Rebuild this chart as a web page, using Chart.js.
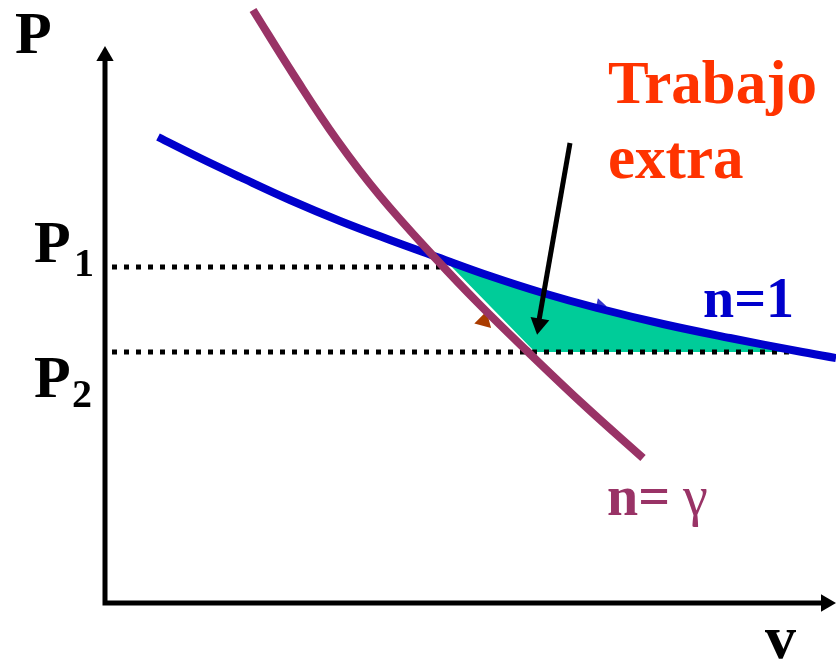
<!DOCTYPE html>
<html>
<head>
<meta charset="utf-8">
<title>Trabajo extra</title>
<script src="https://cdn.jsdelivr.net/npm/chart.js@4.4.1/dist/chart.umd.min.js"></script>
<style>
  html, body { margin: 0; padding: 0; background: #fff; }
  #wrap { width: 836px; height: 660px; }
</style>
</head>
<body>
<div id="wrap"><canvas id="pv"></canvas></div>
<script>
// units: v and P measured from the axis origin, 1 unit ~ 100px
const isoV = [0.53, 0.95, 1.35, 1.85, 2.35, 2.85, 3.32, 3.85, 4.38, 4.92, 5.58, 6.25, 6.92, 7.31];
const isoP = [4.66, 4.45, 4.26, 4.03, 3.82, 3.63, 3.46, 3.27, 3.10, 2.95, 2.79, 2.65, 2.52, 2.45];

const adiaV = [1.48, 1.90, 2.32, 2.75, 3.32, 3.75, 4.22, 4.80, 5.38];
const adiaP = [5.93, 5.26, 4.63, 4.07, 3.43, 2.98, 2.52, 1.97, 1.45];

const P1 = 3.36;
const P2 = 2.51;
const p1V = [0.07, 3.35];
const p2V = [0.07, 6.95];

// shaded "trabajo extra" region
const extraV = [3.40, 3.85, 4.38, 4.92, 5.58, 6.25, 6.95, 4.30];
const extraP = [3.43, 3.27, 3.10, 2.95, 2.79, 2.65, 2.51, 2.51];

// axes
const axisV = [0, 0, 7.21];
const axisP = [5.50, 0, 0];
const axisHeadV = [0, 7.21];
const axisHeadP = [5.47, 0];
const axisHeadRot = [0, 90];

// pointer arrow
const arrowV = [4.65, 4.33];
const arrowP = [4.60, 2.77];
const arrowHeadV = [4.34];
const arrowHeadP = [2.79];
const arrowHeadRot = [190];

// direction marks on the curves
const isoMarkV = [4.95];
const isoMarkP = [2.98];
const adiaMarkV = [3.79];
const adiaMarkP = [2.82];

const pts = (xs, ys) => xs.map((v, i) => ({x: v, y: ys[i]}));

const serif = '"Liberation Serif", "Times New Roman", serif';
const notes = [
  {text: 'P', v: -0.90, p: 5.50, font: 'bold 60px ' + serif, color: '#000'},
  {text: 'P', v: -0.71, p: 3.41, font: 'bold 60px ' + serif, color: '#000'},
  {text: '1', v: -0.31, p: 3.27, font: 'bold 40px ' + serif, color: '#000'},
  {text: 'P', v: -0.71, p: 2.06, font: 'bold 60px ' + serif, color: '#000'},
  {text: '2', v: -0.33, p: 1.96, font: 'bold 40px ' + serif, color: '#000'},
  {text: 'Trabajo', v: 5.03, p: 5.00, font: 'bold 61px ' + serif, color: '#FF3300'},
  {text: 'extra', v: 5.03, p: 4.25, font: 'bold 61px ' + serif, color: '#FF3300'},
  {text: 'n=1', v: 5.98, p: 2.86, font: 'bold 56px ' + serif, color: '#0000CC'},
  {text: 'n=', v: 5.02, p: 0.88, font: 'bold 56px ' + serif, color: '#993366'},
  {text: 'γ', v: 5.78, p: 0.88, font: '56px ' + serif, color: '#993366'},
  {text: 'v', v: 6.60, p: -0.55, font: 'bold 62px ' + serif, color: '#000'}
];

const textPlugin = {
  id: 'pvText',
  afterDatasetsDraw(chart) {
    const {ctx, scales: {x, y}} = chart;
    ctx.save();
    ctx.textAlign = 'left';
    ctx.textBaseline = 'alphabetic';
    notes.forEach(n => {
      ctx.font = n.font;
      ctx.fillStyle = n.color;
      ctx.fillText(n.text, x.getPixelForValue(n.v), y.getPixelForValue(n.p));
    });
    ctx.restore();
  }
};

const lineSet = (data, color, width, order, extra) => Object.assign({
  data: data,
  showLine: true,
  borderColor: color,
  borderWidth: width,
  pointRadius: 0,
  fill: false,
  clip: false,
  order: order
}, extra || {});

const headSet = (data, color, r, rot, order) => ({
  data: data,
  showLine: false,
  pointStyle: 'triangle',
  pointRadius: r,
  rotation: rot,
  backgroundColor: color,
  borderWidth: 0,
  clip: false,
  order: order
});

new Chart(document.getElementById('pv'), {
  type: 'scatter',
  data: {
    datasets: [
      lineSet(pts(arrowV, arrowP), '#000', 5, 1),
      headSet(pts(arrowHeadV, arrowHeadP), '#000', 11, arrowHeadRot, 1),
      lineSet(pts(adiaV, adiaP), '#993366', 8, 2, {tension: 0.4}),
      headSet(pts(adiaMarkV, adiaMarkP), '#AA3C00', 10, 135, 3),
      lineSet(pts(isoV, isoP), '#0000CC', 8, 4, {tension: 0.4}),
      headSet(pts(isoMarkV, isoMarkP), '#3333CC', 7, 103, 5),
      lineSet(pts(p1V, [P1, P1]), '#000', 5, 6, {borderDash: [5, 7]}),
      lineSet(pts(p2V, [P2, P2]), '#000', 5, 6, {borderDash: [5, 7]}),
      lineSet(pts(extraV, extraP), 'rgba(0,0,0,0)', 0, 7, {fill: 'shape', backgroundColor: '#00CC99'}),
      lineSet(pts(axisV, axisP), '#000', 5, 8, {borderJoinStyle: 'miter'}),
      headSet(pts(axisHeadV, axisHeadP), '#000', 10, axisHeadRot, 8)
    ]
  },
  options: {
    responsive: true,
    maintainAspectRatio: false,
    animation: false,
    events: [],
    layout: {padding: 0, autoPadding: false},
    plugins: {
      legend: {display: false},
      tooltip: {enabled: false}
    },
    scales: {
      x: {type: 'linear', min: -1.05, max: 7.31, display: false},
      y: {type: 'linear', min: -0.57, max: 6.03, display: false}
    }
  },
  plugins: [textPlugin]
});
</script>
</body>
</html>
